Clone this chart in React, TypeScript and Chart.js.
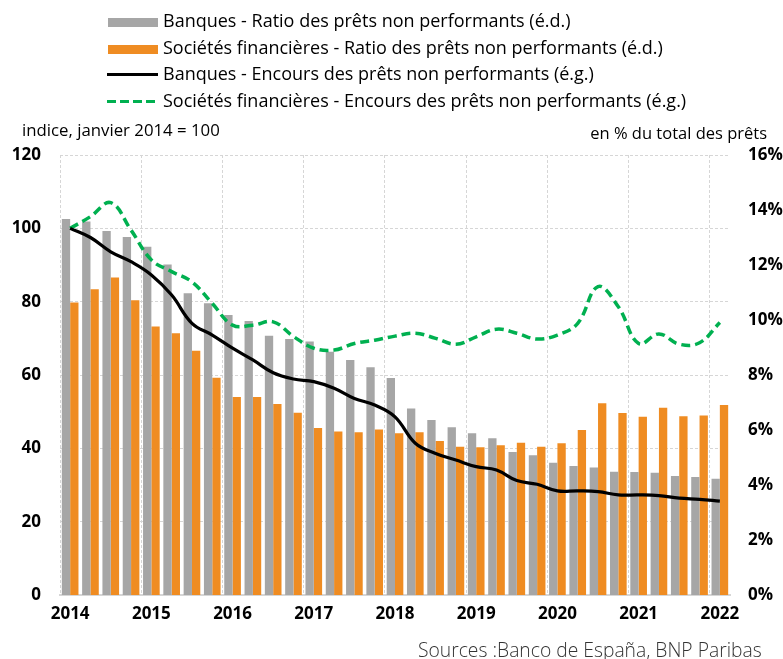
import React, { useEffect, useRef } from 'react';
import { Chart, registerables } from 'chart.js';

Chart.register(...registerables);

// Quarterly categories (T1 2014 -> T1 2022)
const categories = [
  '2014 T1', '2014 T2', '2014 T3', '2014 T4',
  '2015 T1', '2015 T2', '2015 T3', '2015 T4',
  '2016 T1', '2016 T2', '2016 T3', '2016 T4',
  '2017 T1', '2017 T2', '2017 T3', '2017 T4',
  '2018 T1', '2018 T2', '2018 T3', '2018 T4',
  '2019 T1', '2019 T2', '2019 T3', '2019 T4',
  '2020 T1', '2020 T2', '2020 T3', '2020 T4',
  '2021 T1', '2021 T2', '2021 T3', '2021 T4',
  '2022 T1',
];

const yearTicks = ['2014', '2015', '2016', '2017', '2018', '2019', '2020', '2021', '2022'];

// Bars, right axis (% of total loans)
const banquesRatio = [
  13.67, 13.58, 13.24, 13.02, 12.66, 12.02, 10.97, 10.61,
  10.18, 9.96, 9.43, 9.31, 9.22, 8.85, 8.55, 8.28,
  7.89, 6.78, 6.36, 6.10, 5.88, 5.70, 5.20, 5.08,
  4.81, 4.69, 4.64, 4.48, 4.47, 4.45, 4.33, 4.29,
  4.23,
];

const societesRatio = [
  10.64, 11.12, 11.55, 10.72, 9.76, 9.52, 8.88, 7.90,
  7.20, 7.20, 6.95, 6.63, 6.07, 5.95, 5.92, 6.02,
  5.88, 5.92, 5.60, 5.39, 5.37, 5.45, 5.54, 5.39,
  5.52, 6.00, 6.97, 6.62, 6.48, 6.81, 6.50, 6.53,
  6.91,
];

// Lines, left axis (index, January 2014 = 100)
const banquesEncours = [
  100, 97.5, 93.6, 90.9, 87.3, 81.8, 74.1, 70.9,
  67.3, 64.1, 60.6, 58.9, 58.2, 56.4, 53.6, 51.8,
  48.6, 41.4, 38.6, 36.8, 35.0, 34.1, 31.2, 30.2,
  28.4, 28.4, 28.2, 27.3, 27.3, 27.1, 26.4, 26.1,
  25.6,
];

const societesEncours = [
  100, 103.2, 107.0, 99.5, 91.4, 88.2, 85.4, 79.5,
  73.6, 73.6, 74.5, 70.5, 67.3, 66.8, 68.6, 69.5,
  70.6, 71.4, 70.0, 68.4, 70.4, 72.5, 71.4, 69.8,
  70.9, 74.1, 84.1, 78.6, 68.6, 71.2, 68.4, 68.8,
  74.3,
];

const leftTicks = [0, 20, 40, 60, 80, 100, 120];
const rightTicks = [0, 2, 4, 6, 8, 10, 12, 14, 16];

const GRAY = '#A6A6A6';
const ORANGE = '#EF8C22';
const BLACK = '#000000';
const GREEN = '#00B050';
const GRID = '#D6D6D6';
const FONT = "'Open Sans', 'Noto Sans', 'DejaVu Sans', sans-serif";

const legendItems = [
  { label: 'Banques - Ratio des prêts non performants (é.d.)', kind: 'bar', color: GRAY },
  { label: 'Sociétés financières - Ratio des prêts non performants (é.d.)', kind: 'bar', color: ORANGE },
  { label: 'Banques - Encours des prêts non performants (é.g.)', kind: 'line', color: BLACK },
  { label: 'Sociétés financières - Encours des prêts non performants (é.g.)', kind: 'dash', color: GREEN },
];

export default function App() {
  const canvasRef = useRef<HTMLCanvasElement | null>(null);

  useEffect(() => {
    document.body.style.margin = '0';
    const canvas = canvasRef.current;
    if (!canvas) return;
    const tickFont = { family: FONT, size: 17, weight: 'bold' as const };
    const chart = new Chart(canvas, {
      type: 'bar',
      data: {
        labels: categories,
        datasets: [
          {
            type: 'line',
            label: 'Banques - Encours des prêts non performants (é.g.)',
            data: banquesEncours,
            yAxisID: 'y',
            borderColor: BLACK,
            backgroundColor: BLACK,
            borderWidth: 3.2,
            pointRadius: 0,
            tension: 0.4,
            order: 0,
          },
          {
            type: 'line',
            label: 'Sociétés financières - Encours des prêts non performants (é.g.)',
            data: societesEncours,
            yAxisID: 'y',
            borderColor: GREEN,
            backgroundColor: GREEN,
            borderWidth: 3.5,
            borderDash: [9, 5],
            pointRadius: 0,
            tension: 0.4,
            order: 0,
          },
          {
            type: 'bar',
            label: 'Banques - Ratio des prêts non performants (é.d.)',
            data: banquesRatio,
            yAxisID: 'y1',
            backgroundColor: GRAY,
            borderWidth: 0,
            categoryPercentage: 0.82,
            barPercentage: 1.0,
            order: 1,
          },
          {
            type: 'bar',
            label: 'Sociétés financières - Ratio des prêts non performants (é.d.)',
            data: societesRatio,
            yAxisID: 'y1',
            backgroundColor: ORANGE,
            borderWidth: 0,
            categoryPercentage: 0.82,
            barPercentage: 1.0,
            order: 2,
          },
        ],
      },
      options: {
        responsive: false,
        animation: false,
        devicePixelRatio: 1,
        layout: { padding: { top: 155, left: 0, right: 0, bottom: 0 } },
        plugins: {
          legend: { display: false },
          tooltip: { enabled: false },
          title: { display: false },
        },
        scales: {
          x: {
            type: 'category',
            offset: true,
            grid: {
              offset: true,
              drawTicks: false,
              lineWidth: 1,
              color: (ctx: any) => (ctx.index % 4 === 0 && ctx.index < categories.length ? GRID : 'rgba(0,0,0,0)'),
            },
            border: { display: true, color: GRID, width: 2, dash: [3, 2] },
            ticks: {
              autoSkip: false,
              maxRotation: 0,
              minRotation: 0,
              padding: 9,
              color: '#000',
              font: tickFont,
              callback: (_v: any, i: number) => (i % 4 === 0 ? yearTicks[i / 4] : ''),
            },
            afterFit: (s: any) => { s.height = 64; },
          },
          y: {
            position: 'left',
            min: leftTicks[0],
            max: leftTicks[leftTicks.length - 1],
            grid: { color: GRID, lineWidth: 1, drawTicks: false },
            border: { display: false, dash: [3, 2] },
            ticks: {
              stepSize: 20,
              padding: 19,
              color: '#000',
              font: tickFont,
            },
            afterFit: (s: any) => { s.width = 60; },
          },
          y1: {
            position: 'right',
            min: rightTicks[0],
            max: rightTicks[rightTicks.length - 1],
            grid: { display: false, drawTicks: false },
            border: { display: false },
            ticks: {
              stepSize: 2,
              padding: 18,
              color: '#000',
              font: tickFont,
              callback: (v: any) => `${v}%`,
            },
            afterFit: (s: any) => { s.width = 53; },
          },
        },
      },
    } as any);
    return () => chart.destroy();
  }, []);

  return (
    <div style={{ position: 'fixed', left: 0, top: 0, width: 783, height: 659, background: '#fff', fontFamily: FONT }}>
      <canvas ref={canvasRef} width={783} height={659} style={{ position: 'absolute', left: 0, top: 0, width: 783, height: 659 }} />
      {legendItems.map((it, i) => (
        <div
          key={it.label}
          style={{ position: 'absolute', left: 0, top: 7 + 26.5 * i, height: 26, width: 783, lineHeight: '26px' }}
        >
          {it.kind === 'bar' && (
            <div style={{ position: 'absolute', left: 108, top: 11, width: 50, height: 9, background: it.color }} />
          )}
          {it.kind === 'line' && (
            <div style={{ position: 'absolute', left: 107, top: 13, width: 51, height: 3, background: it.color }} />
          )}
          {it.kind === 'dash' && (
            <div
              style={{
                position: 'absolute', left: 107, top: 13, width: 52, height: 3.5,
                background: `repeating-linear-gradient(to right, ${it.color} 0px, ${it.color} 9px, transparent 9px, transparent 13px)`,
              }}
            />
          )}
          <span style={{ position: 'absolute', left: 163, top: 0, fontSize: 18, color: '#000', whiteSpace: 'nowrap' }}>{it.label}</span>
        </div>
      ))}
      <div style={{ position: 'absolute', left: 22, top: 119, fontSize: 16.8, lineHeight: '22px', color: '#000', whiteSpace: 'nowrap' }}>
        indice, janvier 2014 = 100
      </div>
      <div style={{ position: 'absolute', right: 16, top: 122, fontSize: 16.5, lineHeight: '22px', color: '#000', whiteSpace: 'nowrap' }}>
        en % du total des prêts
      </div>
      <div style={{ position: 'absolute', left: 418, top: 637, fontSize: 19.3, fontWeight: 300, lineHeight: '26px', color: '#333', whiteSpace: 'nowrap' }}>
        Sources :Banco de España, BNP Paribas
      </div>
    </div>
  );
}
